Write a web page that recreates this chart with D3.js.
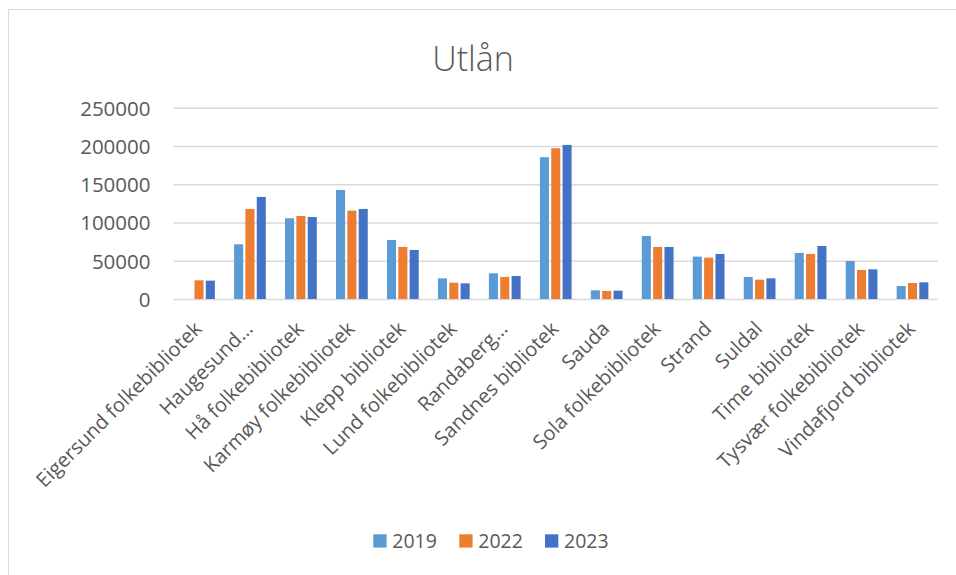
<!DOCTYPE html>
<html><head><meta charset="utf-8">
<script src="https://cdn.jsdelivr.net/npm/d3@7"></script>
<style>
html,body{margin:0;padding:0;background:#fff;}
svg{display:block;}
text{font-family:"Open Sans","Liberation Sans",sans-serif;fill:#595959;}
</style></head>
<body><svg id="c" width="956" height="575"></svg>
<script>
const categories = ["Eigersund folkebibliotek","Haugesund…","Hå folkebibliotek","Karmøy folkebibliotek","Klepp bibliotek","Lund folkebibliotek","Randaberg…","Sandnes bibliotek","Sauda","Sola folkebibliotek","Strand","Suldal","Time bibliotek","Tysvær folkebibliotek","Vindafjord bibliotek"];
const years = ["2019","2022","2023"];
const v2019 = [null,71500,105500,142500,77200,27000,33600,185300,11300,82400,55400,28800,60200,49700,17000];
const v2022 = [24400,117700,108500,115500,68000,21400,28800,197000,10500,68000,54100,25300,58900,37900,20900];
const v2023 = [24000,133400,107200,117700,64100,20500,30100,201400,10900,68000,58900,27000,69300,38800,21800];
const yTicks = [0,50000,100000,150000,200000,250000];
const colors = ["#5B9BD5","#ED7D31","#4472C4"];
const title = "Utlån";

const series = [v2019, v2022, v2023];
const svg = d3.select("#c");

// chart border
svg.append("rect").attr("x",8.5).attr("y",9.5).attr("width",1000).attr("height",1000)
  .attr("fill","none").attr("stroke","#D9D9D9").attr("stroke-width",1);

const x0 = d3.scaleBand().domain(categories).range([173.5,938]).padding(0);
const bw = x0.bandwidth();
const gw = 34;
const x1 = d3.scaleBand().domain(years).range([(bw-gw)/2,(bw+gw)/2]).paddingInner(0.2).paddingOuter(0.1);
const y = d3.scaleLinear().domain([0,250000]).range([299,107.7]);

// gridlines
const yAxis = d3.axisLeft(y).tickValues(yTicks).tickSize(-(938-173.5)).tickFormat(d3.format("d")).tickPadding(23);
const ga = svg.append("g").attr("transform","translate(173.5,0)").call(yAxis);
ga.select(".domain").remove();
ga.selectAll(".tick line").attr("stroke","#D9D9D9").attr("stroke-width",1.5);
ga.selectAll(".tick text").attr("font-size","20.5px").attr("dy","0.36em").style("fill","#595959");

// bars
const groups = svg.append("g").selectAll("g").data(categories).join("g")
  .attr("transform",d=>`translate(${x0(d)},0)`);
groups.selectAll("rect").data((d,i)=>years.map((yr,j)=>({yr,j,v:series[j][i]})).filter(e=>e.v!=null))
  .join("rect")
  .attr("x",e=>x1(e.yr)).attr("width",x1.bandwidth())
  .attr("y",e=>y(e.v)).attr("height",e=>y(0)-y(e.v))
  .attr("fill",e=>colors[e.j]);

// x labels
const xAxis = d3.axisBottom(x0).tickSize(0).tickPadding(0);
const gx = svg.append("g").attr("transform","translate(0,299)").call(xAxis);
gx.select(".domain").remove();
gx.selectAll(".tick text")
  .attr("font-size","20px").style("fill","#595959")
  .attr("text-anchor","end")
  .attr("dy",null).attr("y",null)
  .attr("transform","translate(4,31) rotate(-45)");

// title
svg.append("text").attr("x",473).attr("y",71).attr("text-anchor","middle")
  .attr("font-size","34px").style("font-weight",300).text(title);

// legend
const lx = [373.3,459.3,545];
const lg = svg.append("g").selectAll("g").data(years).join("g")
  .attr("transform",(d,i)=>`translate(${lx[i]},534.3)`);
lg.append("rect").attr("width",13.3).attr("height",13.3).attr("fill",(d,i)=>colors[i]);
lg.append("text").attr("x",19).attr("y",13.5).attr("font-size","19.5px").text(d=>d);
</script></body></html>
